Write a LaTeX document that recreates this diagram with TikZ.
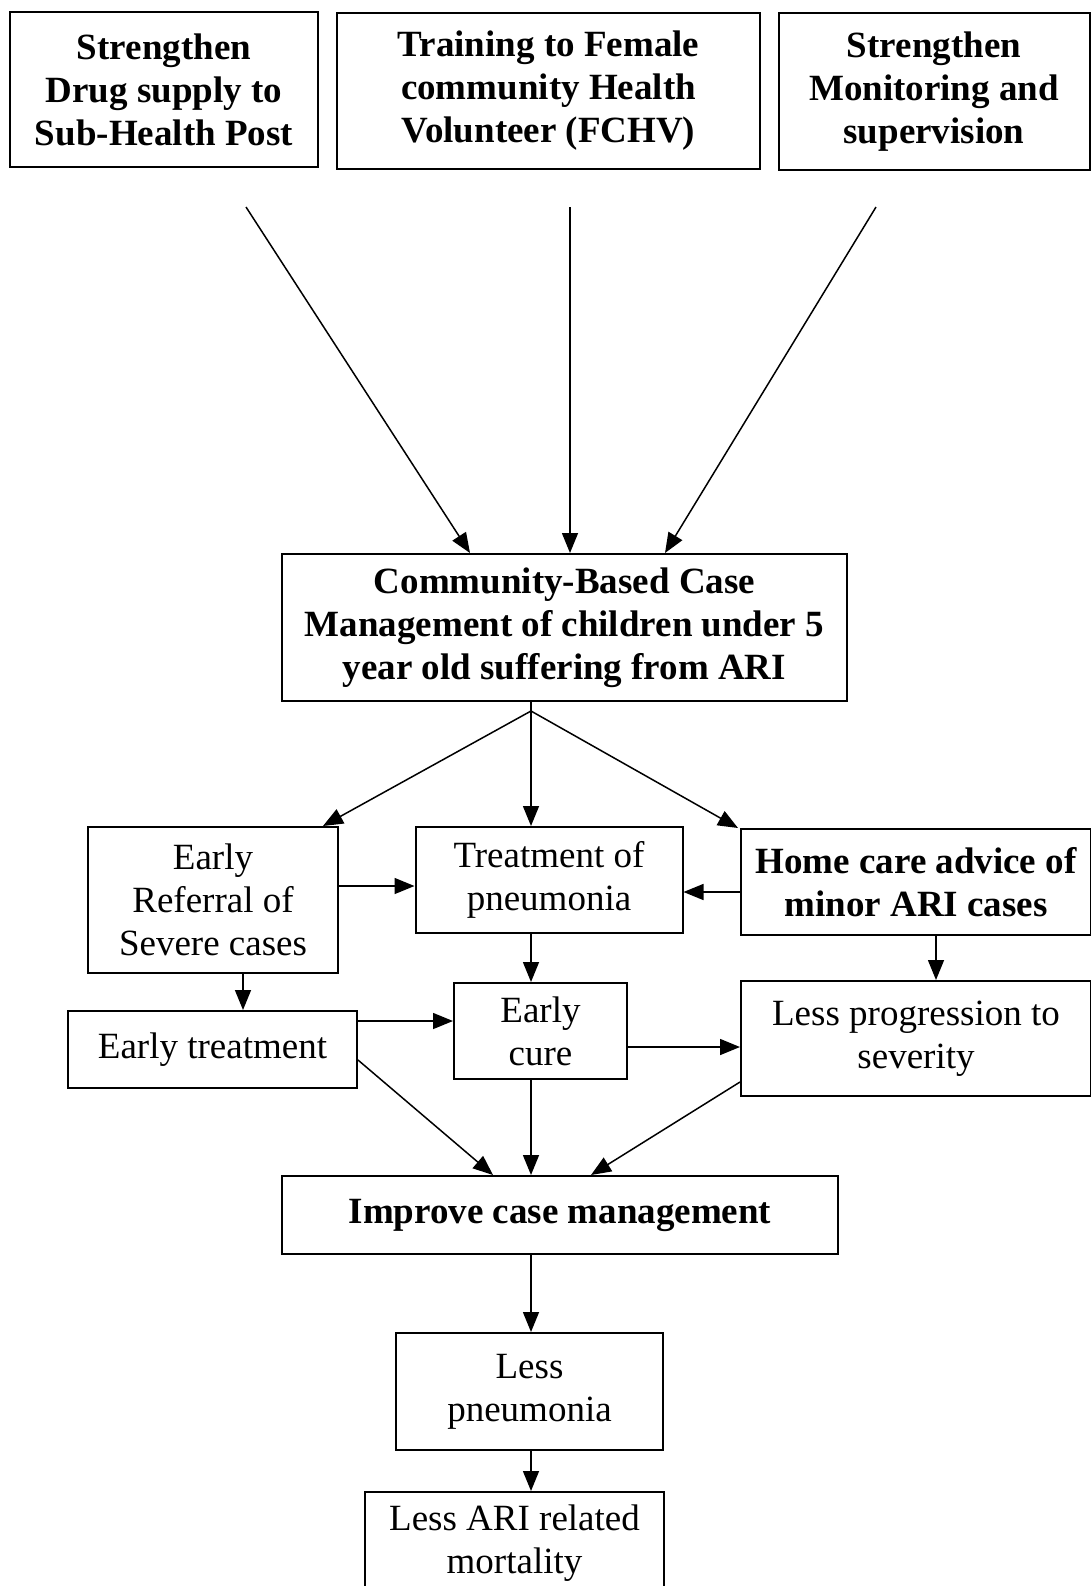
\documentclass[tikz,border=0pt]{standalone}
\usepackage{fontspec}
\setmainfont{Liberation Serif}
\usepackage{tikz}
\usetikzlibrary{arrows.meta}

\tikzset{
  box/.style={draw,line width=1pt,inner sep=0pt,align=center},
  boldbox/.style={box,font=\fontsize{18.5}{21.5}\selectfont\bfseries},
  plainbox/.style={box,font=\fontsize{18.5}{21.5}\selectfont},
  flow/.style={line width=0.75pt,-{Triangle[length=10pt,width=8pt]}}
}

\begin{document}
\begin{tikzpicture}[x=0.5pt,y=-0.5pt]
  \useasboundingbox (0,0) rectangle (1091,1586);
  % top inputs
  \node[boldbox,minimum width=154pt,minimum height=77.5pt] (drug) at (164,89.5)
       {Strengthen\\Drug supply to\\Sub-Health Post};
  \node[boldbox,minimum width=211.5pt,minimum height=78pt] (fchv) at (548.5,91)
       {Training to Female\\community Health\\Volunteer (FCHV)};
  \node[boldbox,minimum width=155.5pt,minimum height=78.5pt] (monit) at (934,91.5)
       {Strengthen\\Monitoring and\\supervision};
  \node[boldbox,minimum width=282.5pt,minimum height=73.5pt] (cbcm) at (564.5,627.5)
       {Community-Based Case\\Management of children under 5\\year old suffering from ARI};
  \coordinate (sA) at (246,207);
  \coordinate (sB) at (570,207);
  \coordinate (sC) at (876,207);
  \draw[flow] (sA) -- (cbcm.north -| 470,0);
  \draw[flow] (sB) -- (cbcm.north -| 570,0);
  \draw[flow] (sC) -- (cbcm.north -| 665,0);
  % second row
  \node[plainbox,minimum width=125pt,minimum height=73pt] (ref) at (213,900)
       {Early\\Referral of\\Severe cases};
  \node[plainbox,minimum width=133.5pt,minimum height=53pt] (treat) at (549,880)
       {Treatment of\\pneumonia};
  \node[boldbox,minimum width=175pt,minimum height=53pt] (home) at (916,882)
       {Home care advice of\\minor ARI cases};
  \coordinate (split) at (531,711);
  \draw[line width=0.75pt] (cbcm.south -| split) -- (split);
  \draw[flow] (split) -- (ref.north -| 323,0);
  \draw[flow] (split) -- (treat.north -| split);
  \draw[flow] (split) -- (home.north -| 738,0);
  \draw[flow] (ref.east |- 0,886) -- (treat.west |- 0,886);
  \draw[flow] (home.west |- 0,892) -- (treat.east |- 0,892);
  % third row
  \node[plainbox,minimum width=144.5pt,minimum height=38.5pt] (etreat) at (212.5,1049.5)
       {Early treatment};
  \node[plainbox,minimum width=86.5pt,minimum height=48pt] (cure) at (540.5,1031)
       {Early\\cure};
  \node[plainbox,minimum width=175pt,minimum height=57.5pt] (prog) at (916,1038.5)
       {Less progression to\\severity};
  \draw[flow] (ref.south -| 243,0) -- (etreat.north -| 243,0);
  \draw[flow] (treat.south -| split) -- (cure.north -| split);
  \draw[flow] (home.south -| 936,0) -- (prog.north -| 936,0);
  \draw[flow] (etreat.east |- 0,1021) -- (cure.west |- 0,1021);
  \draw[flow] (cure.east |- 0,1047) -- (prog.west |- 0,1047);
  % outcomes
  \node[boldbox,minimum width=278pt,minimum height=39pt] (improve) at (560,1215)
       {Improve case management};
  \draw[flow] (etreat.east |- 0,1060) -- (improve.north -| 493,0);
  \draw[flow] (cure.south -| split) -- (improve.north -| split);
  \draw[flow] (prog.west |- 0,1082) -- (improve.north -| 591,0);
  \node[plainbox,minimum width=133.5pt,minimum height=58.5pt] (lesspn) at (529.5,1391.5)
       {Less\\pneumonia};
  \node[plainbox,minimum width=149.5pt,minimum height=51pt] (lessari) at (514.5,1543)
       {Less ARI related\\mortality};
  \draw[flow] (improve.south -| split) -- (lesspn.north -| split);
  \draw[flow] (lesspn.south -| split) -- (lessari.north -| split);
\end{tikzpicture}
\end{document}
